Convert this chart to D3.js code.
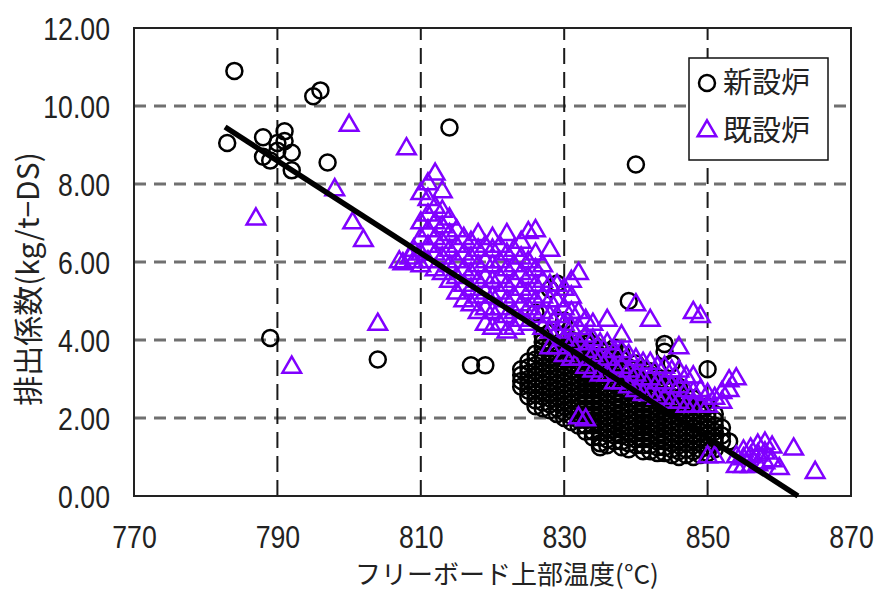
<!DOCTYPE html>
<html lang="ja">
<head>
<meta charset="utf-8">
<title>排出係数とフリーボード上部温度</title>
<script src="https://d3js.org/d3.v7.min.js"></script>
<style>
  body { margin: 0; background: #fff; }
  svg { display: block; }
  .tick text { font-family: "Liberation Sans", Arial, sans-serif; fill: #222; }
  .title { font-family: "Noto Sans CJK JP", sans-serif; fill: #222; }
</style>
</head>
<body>
<svg id="chart" width="875" height="592"></svg>
<script>
// 軸目盛
const xTicks = [770, 790, 810, 830, 850, 870];
const yTicks = [0, 2, 4, 6, 8, 10, 12];

// 新設炉 (温度, 排出係数) - 外れ値
const newOutliers = [
  [784, 10.9], [783, 9.05], [788, 9.2], [788, 8.7], [789, 8.6], [790, 9.05],
  [790, 8.85], [791, 9.35], [791, 9.1], [792, 8.8], [792, 8.35], [795, 10.25],
  [796, 10.4], [797, 8.55], [814, 9.45], [840, 8.5], [789, 4.05], [804, 3.5],
  [817, 3.35], [819, 3.35], [839, 5.0], [850, 3.25]
];
// 新設炉 - 密集部 (温度ごとの値)
const newCluster = [
  [824, [2.8, 2.95, 3.1, 3.25]],
  [825, [2.55, 2.7, 2.85, 3.0, 3.15, 3.3, 3.45]],
  [826, [2.3, 2.45, 2.6, 2.75, 2.9, 3.05, 3.2, 3.35, 3.5, 3.65, 4.7]],
  [827, [2.25, 2.4, 2.55, 2.7, 2.85, 3.0, 3.15, 3.3, 3.45, 3.6, 3.8, 3.95, 4.1]],
  [828, [2.2, 2.35, 2.5, 2.65, 2.8, 2.95, 3.1, 3.25, 3.4, 3.55, 3.7, 3.85, 4.2, 5.3]],
  [829, [2.1, 2.25, 2.4, 2.55, 2.7, 2.85, 3.0, 3.15, 3.3, 3.45, 3.6, 3.75, 3.9, 4.5, 5.45]],
  [830, [2.0, 2.15, 2.3, 2.45, 2.6, 2.75, 2.9, 3.05, 3.2, 3.35, 3.5, 3.65, 3.8, 3.95, 4.1, 4.5]],
  [831, [1.9, 2.05, 2.2, 2.35, 2.5, 2.65, 2.8, 2.95, 3.1, 3.25, 3.4, 3.55, 3.7, 3.85, 4.0]],
  [832, [1.8, 1.95, 2.1, 2.25, 2.4, 2.55, 2.7, 2.85, 3.0, 3.15, 3.3, 3.45, 3.6, 3.75, 3.9]],
  [833, [1.65, 1.8, 1.95, 2.1, 2.25, 2.4, 2.55, 2.7, 2.85, 3.0, 3.15, 3.3, 3.45, 3.6, 3.75, 3.9, 4.05]],
  [834, [1.5, 1.65, 1.8, 1.95, 2.1, 2.25, 2.4, 2.55, 2.7, 2.85, 3.0, 3.15, 3.3, 3.45, 3.6, 3.75, 3.9]],
  [835, [1.25, 1.35, 1.5, 1.65, 1.8, 1.95, 2.1, 2.25, 2.4, 2.55, 2.7, 2.85, 3.0, 3.15, 3.3, 3.45, 3.6, 3.75]],
  [836, [1.3, 1.45, 1.6, 1.75, 1.9, 2.05, 2.2, 2.35, 2.5, 2.65, 2.8, 2.95, 3.1, 3.25, 3.4, 3.55, 3.7]],
  [837, [1.4, 1.55, 1.7, 1.85, 2.0, 2.15, 2.3, 2.45, 2.6, 2.75, 2.9, 3.05, 3.2, 3.35, 3.5, 3.65, 3.8]],
  [838, [1.25, 1.4, 1.55, 1.7, 1.85, 2.0, 2.15, 2.3, 2.45, 2.6, 2.75, 2.9, 3.05, 3.2, 3.35, 3.5, 3.65]],
  [839, [1.2, 1.35, 1.5, 1.65, 1.8, 1.95, 2.1, 2.25, 2.4, 2.55, 2.7, 2.85, 3.0, 3.15, 3.3]],
  [840, [1.3, 1.45, 1.6, 1.75, 1.9, 2.05, 2.2, 2.35, 2.5, 2.65, 2.8, 2.95, 3.1, 3.25, 3.4]],
  [841, [1.15, 1.3, 1.45, 1.6, 1.75, 1.9, 2.05, 2.2, 2.35, 2.5, 2.65, 2.8, 2.95, 3.1, 3.25]],
  [842, [1.15, 1.3, 1.45, 1.6, 1.75, 1.9, 2.05, 2.2, 2.35, 2.5, 2.65, 2.8, 2.95, 3.1, 3.2]],
  [843, [1.1, 1.25, 1.4, 1.55, 1.7, 1.85, 2.0, 2.15, 2.3, 2.45, 2.6, 2.75, 2.9, 3.05]],
  [844, [1.1, 1.25, 1.4, 1.55, 1.7, 1.85, 2.0, 2.15, 2.3, 2.45, 2.6, 2.75, 2.9, 3.7, 3.9]],
  [845, [1.05, 1.2, 1.35, 1.5, 1.65, 1.8, 1.95, 2.1, 2.25, 2.4, 2.55, 2.7, 2.85, 3.4]],
  [846, [1.0, 1.15, 1.3, 1.45, 1.6, 1.75, 1.9, 2.05, 2.2, 2.35, 2.5, 2.65, 2.8]],
  [847, [1.05, 1.2, 1.35, 1.5, 1.65, 1.8, 1.95, 2.1, 2.25, 2.4, 2.55]],
  [848, [1.0, 1.15, 1.3, 1.45, 1.6, 1.75, 1.9, 2.05, 2.2, 2.35, 2.5]],
  [849, [1.05, 1.2, 1.35, 1.5, 1.65, 1.8, 1.95, 2.1, 2.25]],
  [850, [1.1, 1.25, 1.4, 1.55, 1.7, 1.85, 2.0, 2.15, 2.3]],
  [851, [1.2, 1.35, 1.5, 1.65, 1.8, 1.95, 2.1]],
  [852, [1.4, 1.55, 1.75]],
  [853, [1.4]]
];

// 既設炉 - 外れ値
const oldOutliers = [
  [787, 7.1], [792, 3.3], [800, 9.5], [808, 8.9], [798, 7.85], [800.5, 7.0],
  [802, 6.55], [804, 4.4], [807, 6.0], [807.5, 5.95], [808.5, 6.1]
];
// 既設炉 - 密集部
const oldCluster = [
  [809, [6.0, 6.3]],
  [810, [5.9, 6.2, 6.6, 7.0, 7.75]],
  [811, [6.0, 6.4, 6.8, 7.2, 7.6, 8.0]],
  [812, [5.8, 6.2, 6.6, 7.0, 7.4, 8.25]],
  [813, [5.7, 6.1, 6.5, 6.9, 7.3, 7.8]],
  [814, [5.5, 5.9, 6.3, 6.7, 7.1]],
  [815, [5.2, 5.6, 6.0, 6.4, 6.8]],
  [816, [5.0, 5.4, 5.8, 6.2, 6.6]],
  [817, [4.9, 5.3, 5.7, 6.1, 6.5]],
  [818, [4.7, 5.1, 5.5, 5.9, 6.3, 6.7]],
  [819, [4.4, 4.8, 5.2, 5.6, 6.0, 6.4]],
  [820, [4.3, 4.7, 5.1, 5.5, 5.9, 6.3, 6.6]],
  [821, [4.4, 4.8, 5.2, 5.6, 6.0, 6.4]],
  [822, [4.2, 4.6, 5.0, 5.4, 5.8, 6.2, 6.7]],
  [823, [4.3, 4.7, 5.1, 5.5, 5.9, 6.3]],
  [824, [4.5, 4.9, 5.3, 5.7, 6.1, 6.5]],
  [825, [4.4, 4.8, 5.2, 5.6, 6.0, 6.75]],
  [826, [4.6, 5.0, 5.4, 5.8, 6.2, 6.8]],
  [827, [4.3, 4.7, 5.1, 5.5, 5.9]],
  [828, [3.8, 4.2, 4.6, 5.0, 5.4, 6.3]],
  [829, [3.8, 4.2, 4.6, 5.0, 5.4]],
  [830, [3.6, 4.0, 4.4, 4.8, 5.3]],
  [831, [3.5, 3.9, 4.3, 4.7, 5.1, 5.5]],
  [832, [2.0, 3.5, 3.9, 4.3, 4.7, 5.7]],
  [833, [1.95, 3.3, 3.7, 4.1, 4.5]],
  [834, [3.2, 3.6, 4.0, 4.4]],
  [835, [3.1, 3.5, 3.9]],
  [836, [3.1, 3.5, 3.9, 4.5]],
  [837, [2.9, 3.3, 3.7]],
  [838, [2.9, 3.3, 3.7, 4.1]],
  [839, [2.8, 3.2, 3.6]],
  [840, [2.7, 3.1, 3.5, 4.9]],
  [841, [2.6, 3.0, 3.4]],
  [842, [2.6, 3.0, 3.4, 4.5]],
  [843, [2.5, 2.9, 3.3]],
  [844, [2.5, 2.9, 3.3]],
  [845, [2.4, 2.8, 3.2]],
  [846, [2.4, 2.8, 3.2, 3.8]],
  [847, [2.3, 2.7, 3.05]],
  [848, [2.3, 2.65, 3.05, 4.7]],
  [849, [2.3, 2.7, 4.6]],
  [850, [1.0, 2.3, 2.6]],
  [851, [1.0, 2.5]],
  [852, [2.4, 2.65]],
  [853, [2.7, 2.95]],
  [854, [0.75, 1.0, 3.0]],
  [855, [0.75, 0.95, 1.15]],
  [856, [0.75, 1.0, 1.2]],
  [857, [0.8, 1.05, 1.3]],
  [858, [0.85, 1.1, 1.35]],
  [859, [0.9, 1.25]],
  [860, [0.7]],
  [862, [1.2]],
  [865, [0.6]]
];

// 回帰直線の両端
const fitLine = [[782.7, 9.46], [862.6, 0]];

const legendItems = ["新設炉", "既設炉"];

const flatten = cols => cols.flatMap(([t, vs]) => vs.map(v => [t, v]));
const newData = newOutliers.concat(flatten(newCluster));
const oldData = oldOutliers.concat(flatten(oldCluster));

const purple = "#8000ff";
const svg = d3.select("#chart");
const x = d3.scaleLinear().domain([770, 870]).range([134, 851]);
const y = d3.scaleLinear().domain([0, 12]).range([496, 28]);

// グリッド
svg.append("g").selectAll("line")
  .data(yTicks.filter(d => d > 0 && d < 12)).join("line")
  .attr("x1", x(770)).attr("x2", x(870))
  .attr("y1", d => y(d)).attr("y2", d => y(d))
  .attr("stroke", "#707070").attr("stroke-width", 3)
  .attr("stroke-dasharray", "12,8");

svg.append("g").selectAll("line")
  .data(xTicks.filter(d => d > 770 && d < 870)).join("line")
  .attr("x1", d => x(d)).attr("x2", d => x(d))
  .attr("y1", y(0)).attr("y2", y(12))
  .attr("stroke", "#1a1a1a").attr("stroke-width", 2)
  .attr("stroke-dasharray", "16,8");

// 枠
svg.append("rect")
  .attr("x", x(770)).attr("y", y(12))
  .attr("width", x(870) - x(770)).attr("height", y(0) - y(12))
  .attr("fill", "none").attr("stroke", "#222").attr("stroke-width", 2);

// 軸ラベル (細めの字形にするため横方向を縮める)
const yAxis = svg.append("g")
  .attr("transform", `translate(${x(770) - 24},0)`)
  .call(d3.axisLeft(y).tickValues(yTicks).tickFormat(d3.format(".2f")).tickSize(0).tickPadding(0));
yAxis.select(".domain").remove();
yAxis.selectAll("text").attr("font-size", 31).attr("dy", "0.38em")
  .attr("transform", "scale(0.86,1)");

const xAxis = svg.append("g")
  .attr("transform", `translate(0,${y(0)})`)
  .call(d3.axisBottom(x).tickValues(xTicks).tickFormat(d3.format("d")).tickSize(0).tickPadding(30));
xAxis.select(".domain").remove();
xAxis.selectAll("text").attr("font-size", 31).attr("transform", "scale(0.86,1)");

// 点
svg.append("g").selectAll("circle")
  .data(newData).join("circle")
  .attr("cx", d => x(d[0])).attr("cy", d => y(d[1])).attr("r", 8)
  .attr("fill", "none").attr("stroke", "#000").attr("stroke-width", 2.5);

const tri = d3.symbol(d3.symbolTriangle, 150);
svg.append("g").selectAll("path")
  .data(oldData).join("path")
  .attr("d", tri)
  .attr("transform", d => `translate(${x(d[0])},${y(d[1])})`)
  .attr("fill", "none").attr("stroke", purple).attr("stroke-width", 2.5);

// 回帰直線
svg.append("path")
  .datum(fitLine)
  .attr("d", d3.line().x(d => x(d[0])).y(d => y(d[1])))
  .attr("stroke", "#000").attr("stroke-width", 5.5).attr("fill", "none");

// 凡例
const lg = svg.append("g").attr("transform", "translate(689,58)");
lg.append("rect").attr("width", 139).attr("height", 102)
  .attr("fill", "#fff").attr("stroke", "#111").attr("stroke-width", 1.5);
lg.append("circle").attr("cx", 18).attr("cy", 25).attr("r", 8)
  .attr("fill", "none").attr("stroke", "#000").attr("stroke-width", 2.5);
lg.append("path").attr("d", tri).attr("transform", "translate(18,73)")
  .attr("fill", "none").attr("stroke", purple).attr("stroke-width", 2.5);
lg.selectAll("text.lgt").data(legendItems).join("text")
  .attr("class", "title lgt")
  .attr("x", 34).attr("y", (d, i) => 25 + i * 48).attr("dy", "0.36em")
  .attr("font-size", 29).text(d => d);

// 軸タイトル
svg.append("text").attr("class", "title")
  .attr("x", 507).attr("y", 584).attr("text-anchor", "middle")
  .attr("font-size", 26).text("フリーボード上部温度(°C)");

svg.append("text").attr("class", "title")
  .attr("transform", "translate(39,279) rotate(-90)")
  .attr("text-anchor", "middle")
  .attr("font-size", 30).text("排出係数(kg/t−DS)");
</script>
</body>
</html>
